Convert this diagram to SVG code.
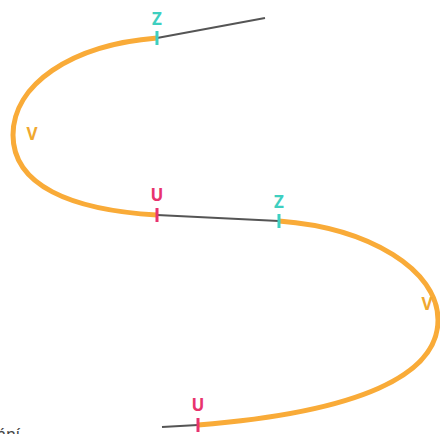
<svg xmlns="http://www.w3.org/2000/svg" width="440" height="434" viewBox="0 0 440 434">
<style>
.arc{fill:none;stroke:#f9ab38;stroke-width:5;stroke-linecap:butt}
.seg{fill:none;stroke:#555;stroke-width:2}
.tz{stroke:#3ecfc0;stroke-width:3}
.tu{stroke:#e8336d;stroke-width:3}
.lbl{font-family:"Noto Sans",sans-serif;font-weight:bold;font-size:17px;text-anchor:middle}
.z{fill:#3ecfc0}.u{fill:#e8336d}.v{fill:#f0a830}
</style>
<rect width="440" height="434" fill="#fff"/>
<g id="connectors">
<path class="seg" d="M157,38 L265,18"/>
<path class="seg" d="M157,215 L279,221"/>
<path class="seg" d="M162,427 L198,425"/>
</g>
<g id="arc-top">
<path class="arc" d="M157,38 C70,45 13,85 13,135 C13,185 70,210 157,215"/>
<text class="lbl v" x="32" y="140">V</text>
</g>
<g id="arc-bottom">
<path class="arc" d="M279,221 C370,228 438,270 438,320 C438,375 360,412 198,425"/>
<text class="lbl v" x="427" y="310">V</text>
</g>
<g id="z1"><line class="tz" x1="157" y1="31" x2="157" y2="45"/><text class="lbl z" x="157" y="25">Z</text></g>
<g id="u1"><line class="tu" x1="157" y1="208" x2="157" y2="222"/><text class="lbl u" x="157" y="201">U</text></g>
<g id="z2"><line class="tz" x1="279" y1="214" x2="279" y2="228"/><text class="lbl z" x="279" y="208">Z</text></g>
<g id="u2"><line class="tu" x1="198" y1="418" x2="198" y2="432"/><text class="lbl u" x="198" y="411">U</text></g>
<text x="20" y="440" font-family="Noto Sans,sans-serif" font-size="16" fill="#444" text-anchor="end">ání</text>
</svg>
